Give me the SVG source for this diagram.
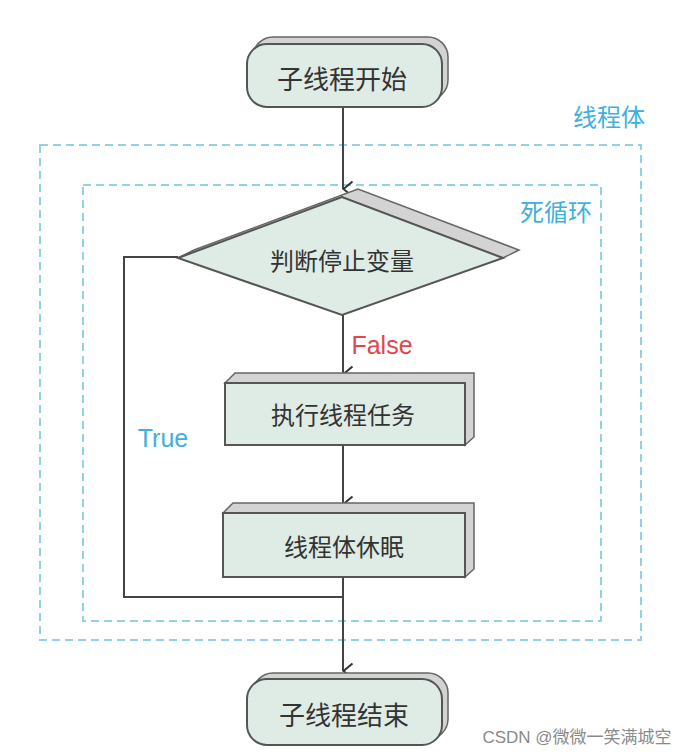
<svg xmlns="http://www.w3.org/2000/svg" width="696" height="755" viewBox="0 0 696 755">
<style>
.front{fill:#dfece5;stroke:#555;stroke-width:2}
.back{fill:#d3d3d3;stroke:#666;stroke-width:1.5}
.lbl{font-family:"Noto Sans CJK SC","Noto Sans",sans-serif;fill:#333;text-anchor:middle;dominant-baseline:central}
.blue{font-family:"Noto Sans CJK SC","Liberation Sans",sans-serif;fill:#3fb0de;text-anchor:middle;dominant-baseline:central}
.dash{fill:none;stroke:#90d2ec;stroke-width:2;stroke-dasharray:8 5}
.conn{fill:none;stroke:#444;stroke-width:2}
</style>
<defs>
<marker id="arr" viewBox="0 0 18 12" refX="9" refY="11" markerWidth="18" markerHeight="12" markerUnits="userSpaceOnUse" orient="auto-start-reverse">
<polyline points="1.5,1.5 9,10.5 16.5,1.5" fill="none" stroke="#333" stroke-width="2"/>
</marker>
</defs>
<rect width="696" height="755" fill="#ffffff"/>

<g id="containers">
<rect class="dash" x="40" y="145" width="601" height="495"/>
<rect class="dash" x="83" y="185" width="518" height="436"/>
<text class="blue" x="609" y="115" font-size="24">线程体</text>
<text class="blue" x="556" y="210" font-size="24">死循环</text>
</g>

<g id="connectors">
<line class="conn" x1="343" y1="107" x2="343" y2="189" marker-end="url(#arr)"/>
<line class="conn" x1="343" y1="315" x2="343" y2="374" marker-end="url(#arr)"/>
<line class="conn" x1="343" y1="445" x2="343" y2="504" marker-end="url(#arr)"/>
<line class="conn" x1="343" y1="577" x2="343" y2="671" marker-end="url(#arr)"/>
<polyline class="conn" points="343,597 124,597 124,257 178,257"/>
<text x="382" y="345" font-family="Liberation Sans,Arial,sans-serif" font-size="25" fill="#e0474c" text-anchor="middle" dominant-baseline="central">False</text>
<text x="163" y="438" font-family="Liberation Sans,Arial,sans-serif" font-size="25" fill="#3fb0de" text-anchor="middle" dominant-baseline="central">True</text>
</g>

<g id="start">
<rect class="back" x="253" y="37" width="195" height="63" rx="20"/>
<rect class="front" x="247" y="44" width="195" height="63" rx="20"/>
<text class="lbl" x="342" y="77" font-size="26">子线程开始</text>
</g>

<g id="decision">
<polygon class="back" points="178,258 194,250 358,189 519,250 503,258 342,197"/>
<polygon class="front" points="178,258 342,197 503,258 342,315"/>
<text class="lbl" x="342" y="259" font-size="24">判断停止变量</text>
</g>

<g id="task">
<polygon class="back" points="225,383 235,373 474,373 474,437 465,445 465,383"/>
<rect class="front" x="225" y="383" width="240" height="62"/>
<text class="lbl" x="343" y="413" font-size="24">执行线程任务</text>
</g>

<g id="sleep">
<polygon class="back" points="223,513 233,503 474,503 474,569 465,577 465,513"/>
<rect class="front" x="223" y="513" width="242" height="64"/>
<text class="lbl" x="344" y="545" font-size="24">线程体休眠</text>
</g>

<g id="end">
<rect class="back" x="253" y="673" width="195" height="66" rx="20"/>
<rect class="front" x="247" y="679" width="195" height="66" rx="20"/>
<text class="lbl" x="344" y="713" font-size="26">子线程结束</text>
</g>

<text x="577" y="737" font-family="Liberation Sans,'Noto Sans CJK SC',sans-serif" font-size="17" fill="#8a8a8a" text-anchor="middle" dominant-baseline="central">CSDN @微微一笑满城空</text>
</svg>
